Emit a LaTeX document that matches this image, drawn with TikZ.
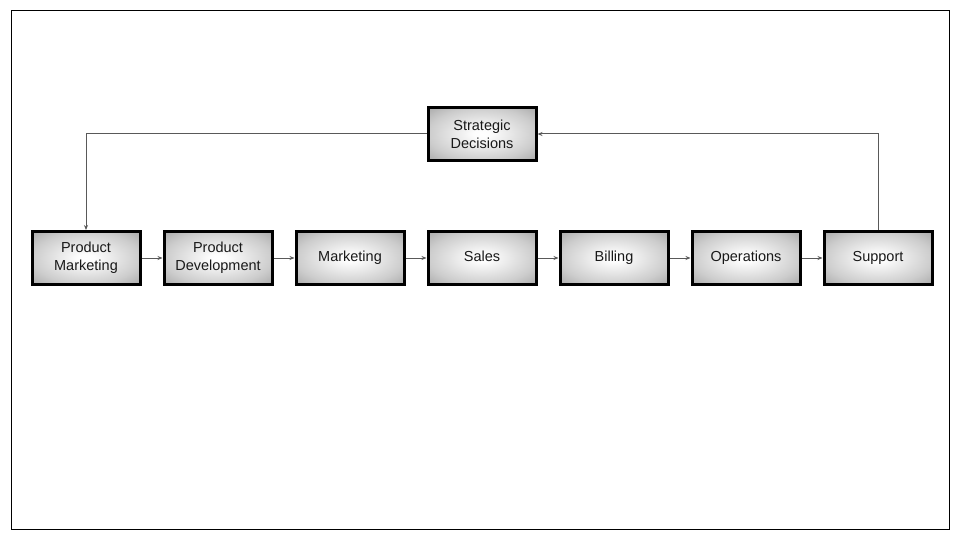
\documentclass[tikz,border=0pt]{standalone}
\usepackage{fontspec}
\setmainfont{Liberation Sans}
\usetikzlibrary{arrows.meta}
\pgfdeclareradialshading{boxshade}{\pgfpoint{0bp}{0bp}}{%
  color(0bp)=(white);
  color(4bp)=(white!99!black);
  color(25bp)=(black!20);
  color(36bp)=(black!34);
  color(50bp)=(black!38)}
\begin{document}
\begin{tikzpicture}[x=1pt,y=-1pt,
  procbox/.style={draw=black, line width=3pt, minimum width=108pt, minimum height=53pt,
    shading=boxshade, align=center, font=\fontsize{14.5}{18}\selectfont, text=black!90},
  conn/.style={draw=black!65, line width=1pt, -{Stealth[length=5pt,width=4pt]}}]
\useasboundingbox (0,0) rectangle (960,540);
\draw[line width=1pt] (11,11) rectangle (949,529);
\node[procbox] (strat) at (482,134) {Strategic\\Decisions};
\node[procbox] (pm) at (86,258) {Product\\Marketing};
\node[procbox] (pd) at (218,258) {Product\\Development};
\node[procbox] (mk) at (350,258) {Marketing};
\node[procbox] (sa) at (482,258) {Sales\strut};
\node[procbox] (bi) at (614,258) {Billing};
\node[procbox] (op) at (746,258) {Operations};
\node[procbox] (su) at (878,258) {Support};
\draw[conn] (pm) -- (pd);
\draw[conn] (pd) -- (mk);
\draw[conn] (mk) -- (sa);
\draw[conn] (sa) -- (bi);
\draw[conn] (bi) -- (op);
\draw[conn] (op) -- (su);
\draw[conn] (strat.west) -| (pm.north);
\draw[conn] (su.north) |- (strat.east);
\end{tikzpicture}
\end{document}
